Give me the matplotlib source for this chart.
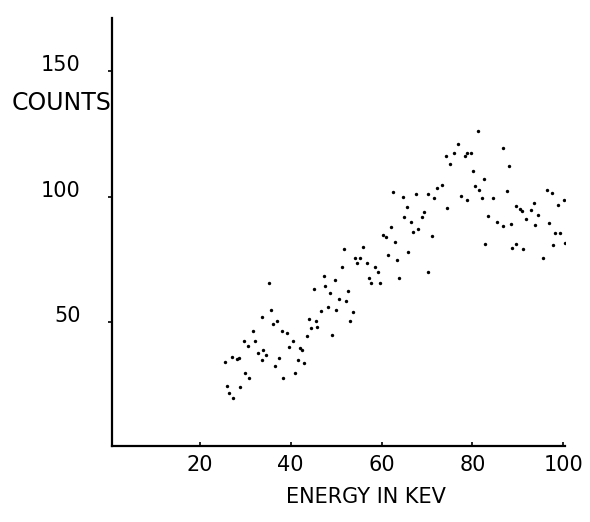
import matplotlib
matplotlib.use('Agg')
import matplotlib.pyplot as plt
import matplotlib.transforms as mtransforms

# energy (keV) and counts, left (rising) part
energy_low = [60.4, 61.0, 63.0, 51.8, 55.9, 61.5, 54.2, 55.3, 54.6, 56.8, 63.4, 51.3,
              58.6, 59.3, 47.4, 49.8, 57.3, 57.7, 59.7, 63.9, 35.2, 47.6, 45.2, 52.6,
              48.7, 50.7, 52.2, 35.7, 48.2, 46.7, 50.0, 53.7, 33.7, 44.1, 37.0, 36.1,
              45.6, 53.1, 44.5, 45.8, 31.7, 38.1, 39.2, 43.6, 49.1, 29.7, 32.2, 40.5,
              30.6, 39.6, 42.1, 42.5, 33.9, 32.8, 34.6, 27.1, 28.2, 28.6, 37.4, 33.7,
              41.6, 25.6, 43.0, 36.6, 30.0, 41.0, 30.8, 38.3, 26.0, 28.9, 26.4, 27.3]
counts_low = [84.9, 84.1, 82.1, 79.3, 80.1, 76.9, 75.7, 75.7, 73.7, 73.7, 74.9, 72.1,
              72.1, 70.1, 68.5, 66.9, 67.7, 65.7, 65.7, 67.7, 65.7, 64.5, 63.3, 62.5,
              61.8, 59.4, 58.6, 55.0, 56.2, 54.6, 55.0, 54.2, 52.2, 51.4, 50.6, 49.4,
              50.6, 50.6, 47.8, 48.2, 46.6, 46.6, 45.8, 44.6, 45.0, 42.6, 42.6, 42.6,
              40.6, 40.2, 39.8, 39.0, 39.0, 37.8, 37.1, 36.3, 35.5, 35.9, 35.9, 35.1,
              35.1, 34.3, 33.9, 32.7, 29.9, 29.9, 27.9, 27.9, 24.7, 24.3, 21.9, 19.9]

# right part (peak around 80 keV and tail)
energy_high = [81.3, 76.9, 76.0, 78.9, 79.7, 78.4, 74.2, 86.8, 75.1, 88.1, 80.2, 82.6,
               80.6, 73.3, 72.2, 81.5, 62.6, 67.6, 70.3, 87.7, 96.5, 97.6, 64.8, 71.6,
               77.5, 78.9, 82.2, 84.6, 100.2, 93.6, 89.6, 90.5, 91.0, 93.0, 98.9, 65.6,
               74.4, 69.4, 65.0, 68.9, 83.5, 94.5, 91.9, 66.5, 85.5, 86.8, 88.5, 93.8,
               96.9, 62.1, 68.1, 67.0, 71.1, 98.2, 99.3, 82.8, 89.6, 97.8, 100.3, 65.9,
               88.8, 91.2, 95.6, 70.3]
counts_high = [126.3, 121.1, 117.5, 117.5, 117.5, 116.3, 116.3, 119.5, 113.1, 112.4, 110.4, 107.2,
               104.4, 104.8, 103.6, 102.8, 102.0, 101.2, 101.2, 102.4, 102.8, 101.6, 100.0, 99.6,
               100.4, 98.8, 99.6, 99.6, 98.8, 97.6, 96.4, 95.2, 94.4, 94.8, 96.8, 96.0,
               95.6, 94.0, 92.0, 92.0, 92.4, 92.8, 91.2, 90.0, 90.0, 88.4, 89.2, 88.8,
               89.6, 88.0, 87.3, 86.1, 84.5, 85.7, 85.7, 81.3, 81.3, 80.9, 81.7, 78.1,
               79.7, 79.3, 75.7, 70.1]

x_ticks = [20, 40, 60, 80, 100]
y_ticks = [50, 100, 150]

fig = plt.figure(figsize=(5.9, 5.22), dpi=100)
ax = fig.add_axes([0.19, 0.1456, 0.7678, 0.82])

ax.scatter(energy_low + energy_high, counts_low + counts_high, s=6, c='black',
           linewidths=0)

ax.set_xlim(0.7, 100.4)
ax.set_ylim(0.8, 171.3)

for side in ['top', 'right']:
    ax.spines[side].set_visible(False)
for side in ['left', 'bottom']:
    ax.spines[side].set_linewidth(1.6)

ax.set_xticks(x_ticks)
ax.set_yticks(y_ticks)
ax.tick_params(axis='x', direction='in', length=3, width=1.2, pad=6.5, labelsize=15)
ax.tick_params(axis='y', direction='out', length=3, width=1.2, pad=19.5, labelsize=15)

# labels in the original sit a bit above their tick marks
shift = mtransforms.ScaledTranslation(0, 8 / 100, fig.dpi_scale_trans)
for lbl in ax.get_yticklabels():
    lbl.set_transform(lbl.get_transform() + shift)

ax.text(0.6, 137.6, 'COUNTS', ha='right', va='center', fontsize=17)

ax.set_xlabel('ENERGY IN KEV', fontsize=15, va='top')
ax.xaxis.set_label_coords(0.56, -0.096)

fig.savefig('out.png', dpi=100)
